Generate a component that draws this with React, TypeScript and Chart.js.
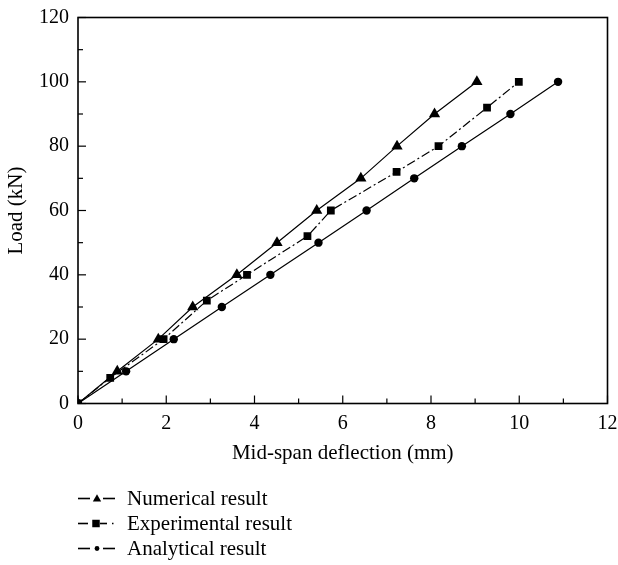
import React, { useEffect, useRef } from "react";
import { Chart, registerables } from "chart.js";

Chart.register(...registerables);

// ---- data ----
const seriesLabels = ["Numerical result", "Experimental result", "Analytical result"];
const numericalX = [0, 0.89, 1.82, 2.6, 3.6, 4.51, 5.41, 6.41, 7.23, 8.08, 9.04];
const numericalY = [0, 10, 20, 30, 40, 50, 60, 70, 80, 90, 100];
const experimentalX = [0, 0.73, 1.94, 2.92, 3.83, 5.2, 5.73, 7.22, 8.17, 9.27, 9.99];
const experimentalY = [0, 8, 20, 32, 40, 52, 60, 72, 80, 92, 100];
const analyticalX = [0, 1.09, 2.17, 3.26, 4.36, 5.45, 6.54, 7.62, 8.7, 9.8, 10.88];
const analyticalY = [0, 10, 20, 30, 40, 50, 60, 70, 80, 90, 100];
const xAxisTitle = "Mid-span deflection (mm)";
const yAxisTitle = "Load (kN)";

const FONT = "'Liberation Serif', 'Times New Roman', serif";

const toPts = (xs: number[], ys: number[]) => xs.map((x, i) => ({ x, y: ys[i] }));

function drawMarker(ctx: CanvasRenderingContext2D, style: string, cx: number, cy: number, r: number) {
  ctx.beginPath();
  if (style === "triangle") {
    ctx.moveTo(cx, cy - r);
    ctx.lineTo(cx + r * 0.866, cy + r * 0.5);
    ctx.lineTo(cx - r * 0.866, cy + r * 0.5);
    ctx.closePath();
  } else if (style === "rect") {
    const s = r * 1.414;
    ctx.rect(cx - s / 2, cy - s / 2, s, s);
  } else {
    ctx.arc(cx, cy, r, 0, Math.PI * 2);
  }
  ctx.fill();
}

function seg(ctx: CanvasRenderingContext2D, xa: number, xb: number, y: number) {
  ctx.beginPath();
  ctx.moveTo(xa, y);
  ctx.lineTo(xb, y);
  ctx.stroke();
}

const framePlugin = {
  id: "frame",
  afterDraw(chart: any) {
    const { ctx, chartArea: a, scales } = chart;
    const xs = scales.x;
    const ys = scales.y;
    ctx.save();
    ctx.strokeStyle = "#000";
    ctx.lineWidth = 1.6;
    ctx.setLineDash([]);
    ctx.strokeRect(a.left, a.top, a.right - a.left, a.bottom - a.top);
    ctx.lineWidth = 1.2;
    // x ticks (inward)
    const xt = xs.ticks.map((t: any) => t.value);
    const xStep = xt[1] - xt[0];
    for (const v of xt) {
      const px = xs.getPixelForValue(v);
      ctx.beginPath();
      ctx.moveTo(px, a.bottom);
      ctx.lineTo(px, a.bottom - 8);
      ctx.stroke();
      if (v + xStep / 2 < xs.max) {
        const pm = xs.getPixelForValue(v + xStep / 2);
        ctx.beginPath();
        ctx.moveTo(pm, a.bottom);
        ctx.lineTo(pm, a.bottom - 5);
        ctx.stroke();
      }
    }
    const yt = ys.ticks.map((t: any) => t.value);
    const yStep = yt[1] - yt[0];
    for (const v of yt) {
      const py = ys.getPixelForValue(v);
      ctx.beginPath();
      ctx.moveTo(a.left, py);
      ctx.lineTo(a.left + 8, py);
      ctx.stroke();
      if (v + yStep / 2 < ys.max) {
        const pm = ys.getPixelForValue(v + yStep / 2);
        ctx.beginPath();
        ctx.moveTo(a.left, pm);
        ctx.lineTo(a.left + 5, pm);
        ctx.stroke();
      }
    }
    // legend
    ctx.font = `21px ${FONT}`;
    ctx.textBaseline = "middle";
    ctx.fillStyle = "#000";
    chart.data.datasets.forEach((ds: any, i: number) => {
      const cy = a.bottom + 95 + i * 25;
      const x0 = a.left;
      const x1 = a.left + 37;
      const xm = a.left + 19;
      ctx.lineWidth = 1.6;
      ctx.setLineDash([]);
      if (ds.borderDash && ds.borderDash.length) {
        seg(ctx, x0, x0 + 10, cy);
        seg(ctx, xm + 3, xm + 10, cy);
        seg(ctx, x1 - 3, x1 - 1.5, cy);
        drawMarker(ctx, "rect", xm - 1, cy, 5.3);
      } else if (ds.pointStyle === "triangle") {
        seg(ctx, x0, x0 + 12, cy);
        seg(ctx, x1 - 12, x1, cy);
        drawMarker(ctx, "triangle", xm, cy + 0.5, 4.8);
      } else {
        seg(ctx, x0, x0 + 12, cy);
        seg(ctx, x1 - 12, x1, cy);
        drawMarker(ctx, "circle", xm, cy, 2.4);
      }
      ctx.fillText(ds.label, a.left + 49, cy + 1);
    });
    ctx.restore();
  },
};

export default function App() {
  const ref = useRef<HTMLCanvasElement>(null);
  useEffect(() => {
    if (!ref.current) return;
    document.body.style.margin = "0";
    document.body.style.overflow = "hidden";
    const common = {
      borderColor: "#000",
      backgroundColor: "#000",
      pointBackgroundColor: "#000",
      pointBorderColor: "#000",
      borderWidth: 1.2,
      pointBorderWidth: 0,
      tension: 0,
      fill: false,
    };
    const chart = new Chart(ref.current, {
      type: "line",
      data: {
        datasets: [
          { ...common, label: seriesLabels[0], data: toPts(numericalX, numericalY), pointStyle: "triangle", pointRadius: 6.5 },
          { ...common, label: seriesLabels[1], data: toPts(experimentalX, experimentalY), pointStyle: "rect", pointRadius: 5.5, borderDash: [9, 3, 2, 3] },
          { ...common, label: seriesLabels[2], data: toPts(analyticalX, analyticalY), pointStyle: "circle", pointRadius: 4.2 },
        ],
      },
      options: {
        animation: false,
        responsive: true,
        maintainAspectRatio: false,
        layout: { padding: { top: 17.5, right: 10.5, bottom: 98.5, left: 8 } },
        plugins: { legend: { display: false }, tooltip: { enabled: false } },
        scales: {
          x: {
            type: "linear",
            min: 0,
            max: 12,
            ticks: { stepSize: 2, color: "#000", font: { family: FONT, size: 20 }, padding: 8, maxRotation: 0 },
            grid: { display: false, drawTicks: false },
            border: { display: false },
            title: { display: true, text: xAxisTitle, color: "#000", font: { family: FONT, size: 21 }, padding: 0 },
            afterFit: (s: any) => {
              s.height = 63;
              s.paddingLeft = 0;
              s.paddingRight = 0;
            },
          },
          y: {
            type: "linear",
            min: 0,
            max: 120,
            ticks: { stepSize: 20, color: "#000", font: { family: FONT, size: 20 }, padding: 9 },
            grid: { display: false, drawTicks: false },
            border: { display: false },
            title: { display: true, text: yAxisTitle, color: "#000", font: { family: FONT, size: 21, lineHeight: 0.8 }, padding: 0 },
            afterFit: (s: any) => {
              s.width = 70;
              s.paddingTop = 0;
              s.paddingBottom = 0;
            },
          },
        },
      },
      plugins: [framePlugin],
    } as any);
    return () => chart.destroy();
  }, []);
  return (
    <div style={{ width: 618, height: 565, position: "relative" }}>
      <canvas ref={ref} style={{ display: "block" }} />
    </div>
  );
}
